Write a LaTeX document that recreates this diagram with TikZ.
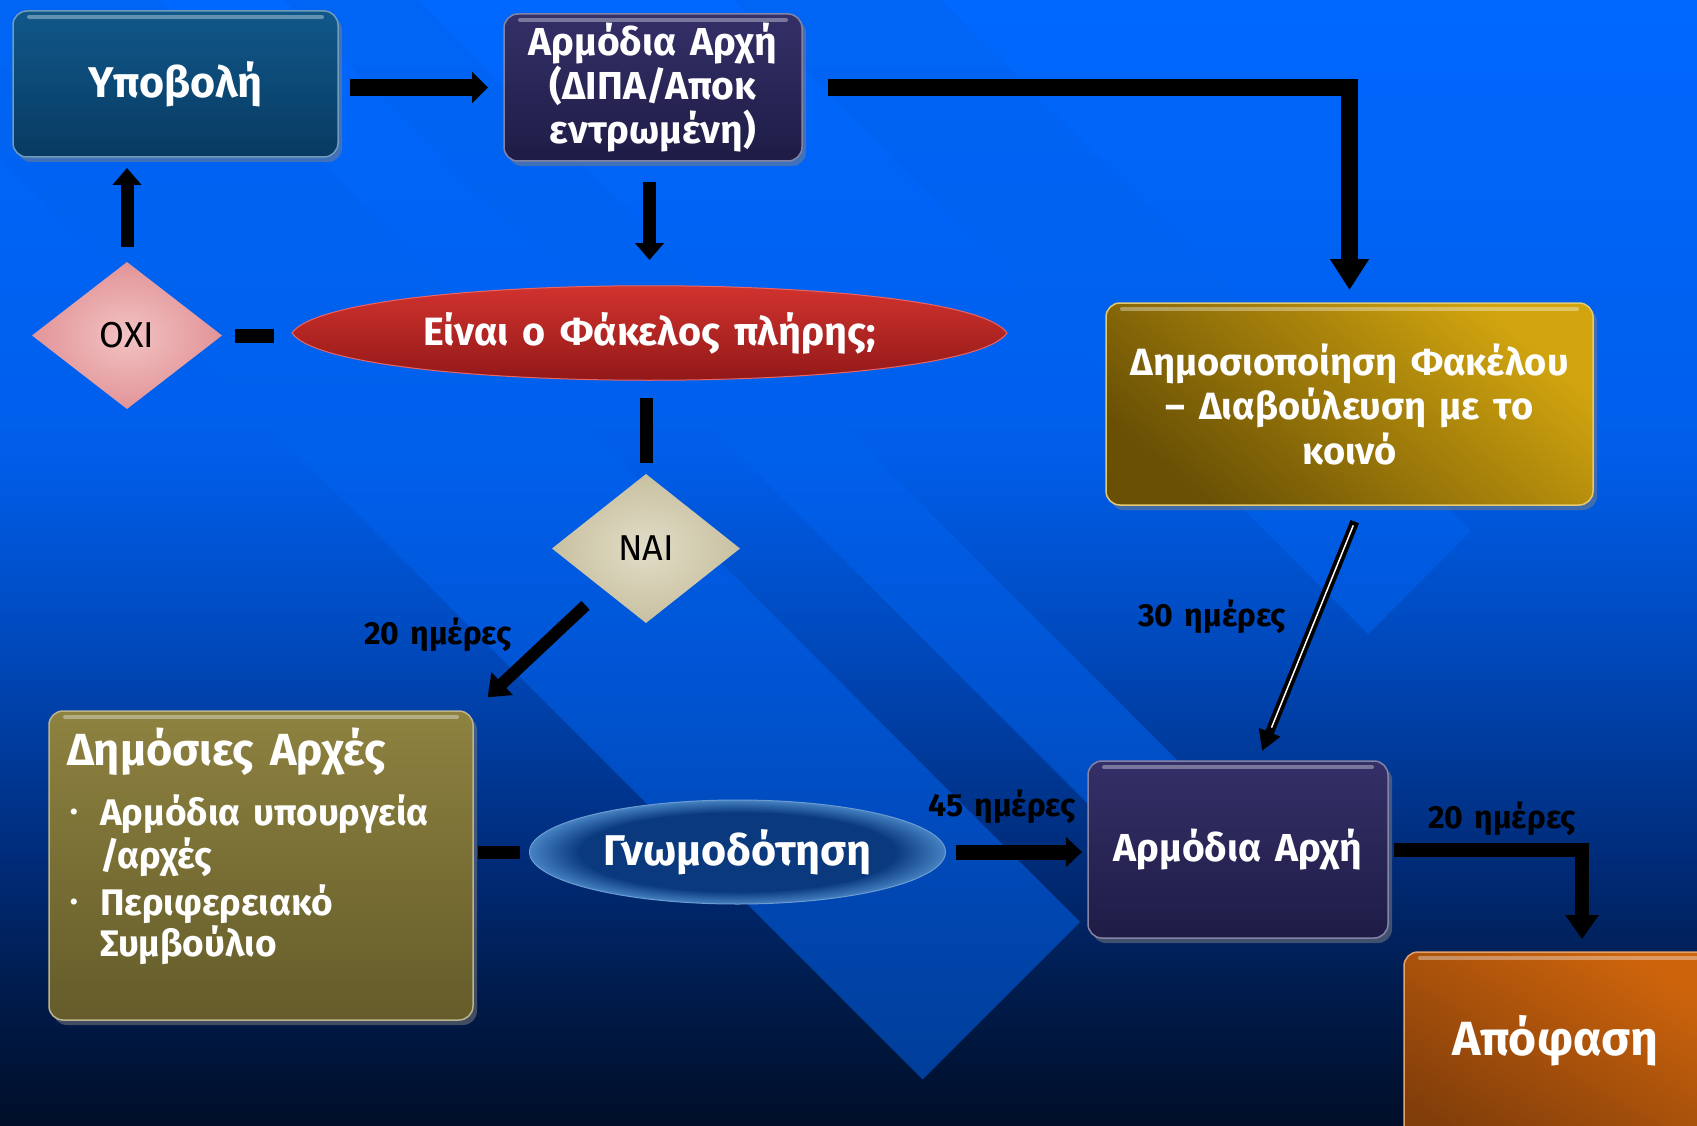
\documentclass[tikz,border=0pt]{standalone}
\usepackage{fontspec}
\setmainfont{Fira Sans}[WordSpace=1.5]
\usetikzlibrary{arrows.meta,shadows,shapes.geometric}
\newcommand\fsz[2]{\fontsize{#1}{#2}\selectfont}
\definecolor{bg0}{RGB}{0,14,40}
\definecolor{bg1}{RGB}{0,26,72}
\definecolor{bg2}{RGB}{0,44,122}
\definecolor{bg3}{RGB}{0,72,186}
\definecolor{bg4}{RGB}{0,94,234}
\definecolor{bg5}{RGB}{0,104,255}
\definecolor{bandc}{RGB}{0,98,238}
\definecolor{ypoT}{RGB}{16,88,138}
\definecolor{ypoB}{RGB}{8,58,98}
\definecolor{armT}{RGB}{52,48,104}
\definecolor{armB}{RGB}{30,28,70}
\definecolor{dimT}{RGB}{210,165,15}
\definecolor{dimB}{RGB}{105,80,5}
\definecolor{demT}{RGB}{142,130,64}
\definecolor{demB}{RGB}{100,92,42}
\definecolor{apoT}{RGB}{205,100,12}
\definecolor{apoB}{RGB}{130,62,10}
\definecolor{qT}{RGB}{220,55,50}
\definecolor{qB}{RGB}{135,20,20}
\definecolor{qL}{RGB}{235,100,100}
\definecolor{gnD}{RGB}{10,58,125}
\definecolor{gnL}{RGB}{70,130,195}
\definecolor{oxiI}{RGB}{242,195,195}
\definecolor{oxiO}{RGB}{226,148,152}
\definecolor{naiI}{RGB}{226,221,200}
\definecolor{naiO}{RGB}{200,192,160}
\pgfdeclareverticalshading{bgsh}{100bp}{color(0bp)=(bg0); color(25bp)=(bg0); color(30.5bp)=(bg1); color(37bp)=(bg2); color(46bp)=(bg3); color(55bp)=(bg4); color(75bp)=(bg5); color(100bp)=(bg5)}
\pgfdeclareradialshading{gnsh}{\pgfpoint{0bp}{0bp}}{color(0bp)=(gnD); color(19bp)=(gnD); color(25bp)=(gnL); color(50bp)=(gnL)}
\begin{document}
\begin{tikzpicture}[x=1pt,y=-1pt,
  every node/.style={inner sep=0pt, outer sep=0pt},
  box/.style 2 args={rounded corners=14pt, top color=#1, bottom color=#2, draw=#1!60!white, line width=1.5pt, drop shadow={opacity=0.5, shadow xshift=4pt, shadow yshift=-5pt}},
  wt/.style={text=white, align=center},
  lab/.style={text=black, font=\bfseries\fsz{32}{36}},
  bar/.style={draw=black, line width=14pt},
  band/.style={fill=bandc, fill opacity=0.55},
  hl/.style={draw=white, draw opacity=0.35, line width=4pt, line cap=round},
]
\useasboundingbox (0,0) rectangle (1697,1126);
\shade[shading=bgsh] (0,0) rectangle (1697,1126);
% decorative translucent bands
\fill[band] (0,157) -- (922.5,1079.5) -- (1080,922) -- (158,0) -- (0,0) -- cycle;
\fill[band] (284,0) -- (1143,859) -- (1209.5,792.5) -- (417,0) -- cycle;
\fill[band] (734,0) -- (1368,634) -- (1471,531) -- (940,0) -- cycle;

% boxes
\node[box={ypoT}{ypoB}, minimum width=325pt, minimum height=146pt, wt, font=\bfseries\fsz{43}{48}] (ypo) at (175.5,84) {Υποβολή};
\node[box={armT}{armB}, minimum width=298pt, minimum height=147pt, wt, font=\bfseries\fsz{39}{44}] (arm1) at (653,87.5) {Αρμόδια Αρχή\\(ΔΙΠΑ/Αποκ\\εντρωμένη)};
\node[box={dimT}{dimB}, shading angle=-40, minimum width=487pt, minimum height=202pt, wt, font=\bfseries\fsz{38}{44.5}] (dim) at (1349.5,404) {Δημοσιοποίηση Φακέλου\\– Διαβούλευση με το\\κοινό};
\node[box={demT}{demB}, minimum width=424pt, minimum height=309pt] (dem) at (261,865.5) {};
\node[box={armT}{armB}, minimum width=300pt, minimum height=177pt, wt, font=\bfseries\fsz{39}{44}] (arm2) at (1238,849.5) {Αρμόδια Αρχή};
\node[box={apoT}{apoB}, shading angle=-30, minimum width=308pt, minimum height=198pt] (apo) at (1558,1051) {};
\node[wt, font=\bfseries\fsz{48}{54}] (apot) at (1555,1041) {Απόφαση};

\foreach \n in {ypo,arm1,dim,dem,arm2,apo}
  \draw[hl] ([xshift=16pt,yshift=-6pt]\n.north west) -- ([xshift=-16pt,yshift=-6pt]\n.north east);

% texts of Δημόσιες Αρχές
\node[wt, anchor=west, font=\bfseries\fsz{45}{49}] (demt) at (67,752) {Δημόσιες Αρχές};
\node[wt, anchor=west, align=left, font=\bfseries\fsz{37}{43}] (b1) at (100,835.5) {Αρμόδια υπουργεία\\/αρχές};
\node[wt, anchor=west, align=left, font=\bfseries\fsz{37}{41}] (b2) at (100,924.5) {Περιφερειακό\\Συμβούλιο};
\node[wt, font=\bfseries\fsz{22}{24}] (d1) at (74,814) {•};
\node[wt, font=\bfseries\fsz{22}{24}] (d2) at (74,904) {•};

% question lens
\node[ellipse, minimum width=715pt, minimum height=92pt] (q) at (649.5,333) {};
\shade[top color=qT, bottom color=qB, draw=qL, line width=1pt] (292,333) .. controls (335,270) and (964,270) .. (1007,333) .. controls (964,396) and (335,396) .. cycle;
\node[wt, font=\bfseries\fsz{39.5}{44}] (qt) at (q) {Είναι ο Φάκελος πλήρης;};

% opinion ellipse
\node[ellipse, shade, shading=gnsh, draw=gnL!80!white, line width=1pt, minimum width=416pt, minimum height=104pt, wt, font=\bfseries\fsz{43}{48}] (gn) at (737.5,852) {Γνωμοδότηση};

% diamonds
\node[diamond, minimum width=190pt, minimum height=147pt, shade, inner color=oxiI, outer color=oxiO, font=\fsz{36}{40}] (oxi) at (127,335.5) {ΟΧΙ};
\node[diamond, minimum width=188pt, minimum height=149pt, shade, inner color=naiI, outer color=naiO, font=\fsz{36}{40}] (nai) at (646,548.5) {ΝΑΙ};

% connectors
\draw[line width=17pt, -{Triangle[width=31pt,length=16pt]}, shorten <=12pt, shorten >=16pt] (ypo.east |- arm1.west) -- (arm1.west);
\draw[line width=17pt, line join=miter, -{Triangle[width=37pt,length=31pt]}, shorten <=26pt, shorten >=13pt] (arm1.east) -| (dim.north);
\draw[line width=13pt, -{Triangle[width=28pt,length=17pt]}, shorten <=21pt, shorten >=27pt] (q.north |- arm1.south) -- (q.north);
\draw[line width=13pt, -{Triangle[width=28pt,length=17pt]}, shorten <=15pt, shorten >=11pt] (oxi.north) -- (oxi.north |- ypo.south);
\draw[bar, shorten <=13pt, shorten >=18pt] (oxi.east) -- (oxi.east -| q.west);
\draw[bar, line width=13pt, shorten <=19pt, shorten >=11pt] (nai.north |- q.south) -- (nai.north);
\draw[line width=12pt, -{Triangle[width=30pt,length=20pt]}, shorten <=24pt, shorten >=20pt] (nai) -- (dem.north east);
\draw[bar, line width=13pt, shorten <=5pt, shorten >=10pt] (dem.east |- gn.west) -- (gn.west);
\draw[line width=15pt, -{Triangle[width=29pt,length=16pt]}, shorten <=10pt, shorten >=6pt] (gn.east) -- (gn.east -| arm2.west);
\draw[line width=9pt, -{Triangle[width=22pt,length=20pt]}, shorten <=18pt, shorten >=11pt] ([xshift=12pt]dim.south) -- ([xshift=20pt]arm2.north);
\draw[white, line width=1.5pt, shorten <=22pt, shorten >=36pt] ([xshift=12pt]dim.south) -- ([xshift=20pt]arm2.north);
\draw[line width=14pt, line join=miter, -{Triangle[width=32pt,length=24pt]}, shorten <=6pt, shorten >=13pt] (arm2.east) -| ([xshift=24pt]apo.north);

% labels
\node[lab] (l20a) at (438,635) {20 ημέρες};
\node[lab] (l45) at (1002,807) {45 ημέρες};
\node[lab] (l30) at (1212,617) {30 ημέρες};
\node[lab] (l20b) at (1502,819) {20 ημέρες};
\end{tikzpicture}
\end{document}
